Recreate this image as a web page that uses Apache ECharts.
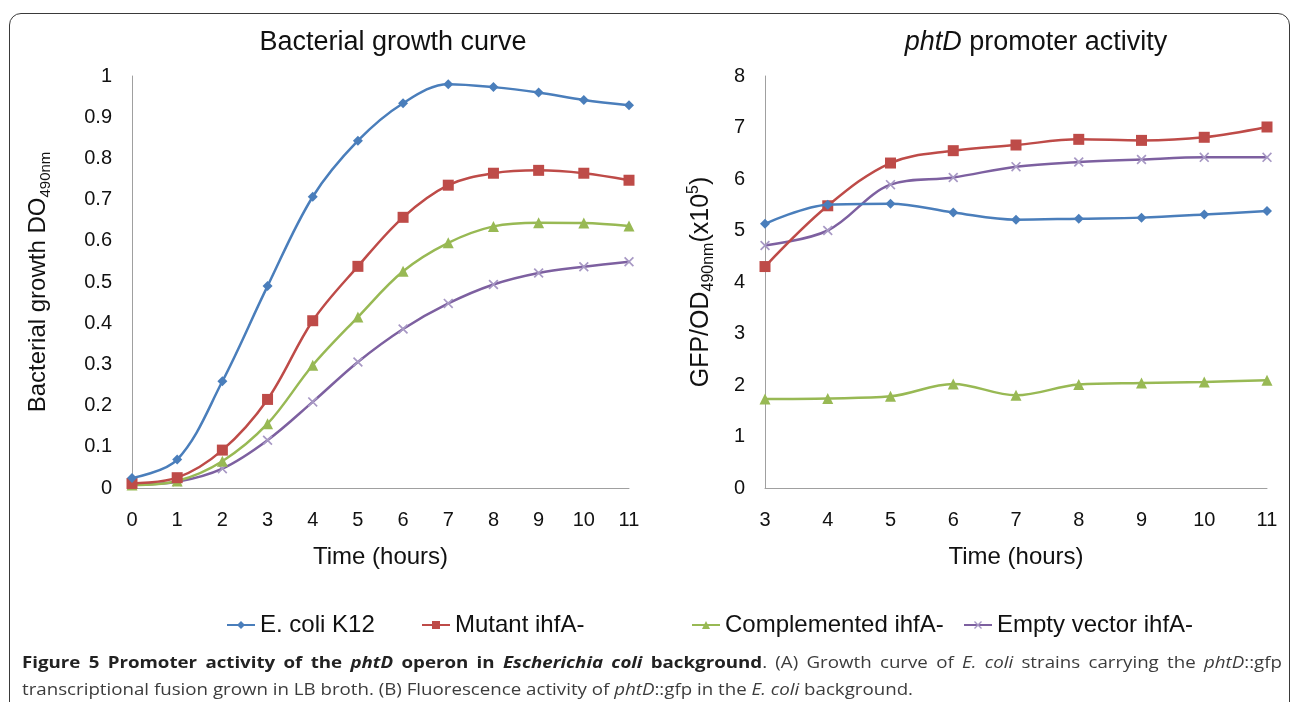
<!DOCTYPE html>
<html>
<head>
<meta charset="utf-8">
<script src="https://cdn.jsdelivr.net/npm/echarts@6/dist/echarts.min.js"></script>
<style>
  html, body { margin: 0; padding: 0; background: #fff; width: 1292px; height: 702px; overflow: hidden; }
  #frame { position: absolute; left: 9px; top: 13px; width: 1279px; height: 760px; border: 1.5px solid #3a3a3a; border-radius: 12px; }
  #chart { position: absolute; left: 0; top: 0; width: 1292px; height: 702px; }
  #caption { position: absolute; left: 22px; top: 648px; font-family: "Open Sans", sans-serif; font-size: 16.5px; color: #3c3c3c; line-height: 27px; white-space: nowrap; transform-origin: 0 0; }
  #caption b { color: #222; }
  #line1 { text-align: justify; text-align-last: justify; }
</style>
</head>
<body>
<div id="frame"></div>
<div id="chart"></div>
<div id="caption">
  <div id="line1"><b>Figure 5 Promoter activity of the <i>phtD</i> operon in <i>Escherichia coli</i> background</b>. (A) Growth curve of <i>E. coli</i> strains carrying the <i>phtD</i>::gfp</div>
  <div><span id="line2">transcriptional fusion grown in LB broth. (B) Fluorescence activity of <i>phtD</i>::gfp in the <i>E. coli</i> background.</span></div>
</div>
<script>
// ---- Data ----
const seriesNames = ['E. coli K12', 'Mutant ihfA-', 'Complemented ihfA-', 'Empty vector ihfA-'];

// Panel A: bacterial growth curve (hours 0..11)
const hoursA = [0, 1, 2, 3, 4, 5, 6, 7, 8, 9, 10, 11];
const growthK12 = [0.024, 0.069, 0.259, 0.490, 0.707, 0.843, 0.934, 0.980, 0.973, 0.960, 0.942, 0.929];
const growthMutant = [0.011, 0.025, 0.092, 0.215, 0.406, 0.538, 0.657, 0.735, 0.764, 0.771, 0.764, 0.747];
const growthComplemented = [0.007, 0.017, 0.065, 0.156, 0.298, 0.415, 0.526, 0.595, 0.635, 0.644, 0.643, 0.636];
const growthEmpty = [0.008, 0.015, 0.047, 0.116, 0.209, 0.306, 0.386, 0.448, 0.494, 0.522, 0.537, 0.549];

// Panel B: phtD promoter activity (hours 3..11)
const hoursB = [3, 4, 5, 6, 7, 8, 9, 10, 11];
const gfpK12 = [5.13, 5.50, 5.52, 5.35, 5.21, 5.23, 5.25, 5.31, 5.38];
const gfpMutant = [4.30, 5.48, 6.31, 6.55, 6.66, 6.77, 6.75, 6.81, 7.01];
const gfpComplemented = [1.73, 1.74, 1.78, 2.02, 1.80, 2.01, 2.04, 2.06, 2.09];
const gfpEmpty = [4.71, 5.00, 5.89, 6.03, 6.24, 6.33, 6.38, 6.42, 6.42];

// ---- Styles ----
const colors = ['#4a7ebb', '#be4b48', '#98b954', '#7d60a0'];
const xMark = 'path://M0,1.2L1.2,0L5,3.8L8.8,0L10,1.2L6.2,5L10,8.8L8.8,10L5,6.2L1.2,10L0,8.8L3.8,5Z';
const symbols = ['diamond', 'rect', 'triangle', xMark];
const symbolSizes = [10, 11, 11, 10];
const FONT = '"Liberation Sans", Arial, sans-serif';

function pairs(xs, ys) { return xs.map((x, i) => [x, ys[i]]); }

const panelA = [growthK12, growthMutant, growthComplemented, growthEmpty];
const panelB = [gfpK12, gfpMutant, gfpComplemented, gfpEmpty];

const series = [];
[panelA, panelB].forEach((panel, p) => {
  const xs = p === 0 ? hoursA : hoursB;
  panel.forEach((vals, i) => {
    series.push({
      name: seriesNames[i], type: 'line', xAxisIndex: p, yAxisIndex: p,
      data: pairs(xs, vals), smooth: 0.35, symbol: symbols[i], symbolSize: symbolSizes[i],
      lineStyle: { color: colors[i], width: 2.5 },
      itemStyle: { color: i === 3 ? '#a798c4' : colors[i] },
      z: 10 - i
    });
  });
});

const axisLineStyle = { lineStyle: { color: '#a0a0a0', width: 1 } };
const tickLabel = { color: '#111', fontSize: 20, fontFamily: FONT };
const nameStyle = { color: '#111', fontSize: 24, fontFamily: FONT };

const legendLefts = [221, 416, 686, 958];
const legends = seriesNames.map((n, i) => ({
  data: [n], left: legendLefts[i], top: 608, itemWidth: 28, itemHeight: 10,
  textStyle: { color: '#111', fontSize: 24, fontFamily: FONT }, selectedMode: false
}));

const option = {
  animation: false,
  title: [
    { text: 'Bacterial growth curve', left: 388, top: 24, textAlign: 'center',
      textStyle: { color: '#111', fontSize: 27, fontWeight: 'normal', fontFamily: FONT } },
    { text: '{i|phtD} promoter activity', left: 1031, top: 24, textAlign: 'center',
      textStyle: { color: '#111', fontSize: 27, fontWeight: 'normal', fontFamily: FONT,
        rich: { i: { fontStyle: 'italic', fontSize: 27, color: '#111', fontFamily: FONT } } } }
  ],
  legend: legends,
  grid: [
    { left: 132, right: 663, top: 76, bottom: 214 },
    { left: 765, right: 25, top: 76, bottom: 214 }
  ],
  xAxis: [
    { type: 'value', gridIndex: 0, min: 0, max: 11, interval: 1,
      axisLine: axisLineStyle, axisTick: { show: false }, splitLine: { show: false },
      axisLabel: Object.assign({ margin: 22 }, tickLabel),
      name: 'Time (hours)', nameLocation: 'middle', nameGap: 57, nameTextStyle: nameStyle },
    { type: 'value', gridIndex: 1, min: 3, max: 11, interval: 1,
      axisLine: axisLineStyle, axisTick: { show: false }, splitLine: { show: false },
      axisLabel: Object.assign({ margin: 22 }, tickLabel),
      name: 'Time (hours)', nameLocation: 'middle', nameGap: 57, nameTextStyle: nameStyle }
  ],
  yAxis: [
    { type: 'value', gridIndex: 0, min: 0, max: 1, interval: 0.1,
      axisLine: Object.assign({ show: true }, axisLineStyle), axisTick: { show: false }, splitLine: { show: false },
      axisLabel: Object.assign({ margin: 20 }, tickLabel),
      name: '{a|Bacterial growth DO}{s|490nm}', nameLocation: 'middle', nameGap: 79,
      nameTextStyle: Object.assign({}, nameStyle, { rich: {
        a: { fontSize: 24, lineHeight: 30, color: '#111', fontFamily: FONT },
        s: { fontSize: 15, lineHeight: 15, verticalAlign: 'bottom', color: '#111', fontFamily: FONT }
      } }) },
    { type: 'value', gridIndex: 1, min: 0, max: 8, interval: 1,
      axisLine: Object.assign({ show: true }, axisLineStyle), axisTick: { show: false }, splitLine: { show: false },
      axisLabel: Object.assign({ margin: 20 }, tickLabel),
      name: '{a|GFP/OD}{s|490nm}{a|(x10}{p|5}{a|)}', nameLocation: 'middle', nameGap: 48,
      nameTextStyle: Object.assign({}, nameStyle, { rich: {
        a: { fontSize: 25, lineHeight: 31, color: '#111', fontFamily: FONT },
        s: { fontSize: 16, lineHeight: 16, verticalAlign: 'bottom', color: '#111', fontFamily: FONT },
        p: { fontSize: 16, lineHeight: 16, verticalAlign: 'top', color: '#111', fontFamily: FONT }
      } }) }
  ],
  series: series
};

const chart = echarts.init(document.getElementById('chart'), null, { renderer: 'canvas' });
chart.setOption(option);

// Fit caption: line 2 natural width ~891px in the reference, line 1 justified to 1260px
(function fitCaption() {
  const cap = document.getElementById('caption');
  const w2 = document.getElementById('line2').getBoundingClientRect().width;
  const s = 891 / w2;
  document.getElementById('line1').style.width = (1260 / s) + 'px';
  cap.style.transform = 'scaleX(' + s + ')';
})();
</script>
</body>
</html>
